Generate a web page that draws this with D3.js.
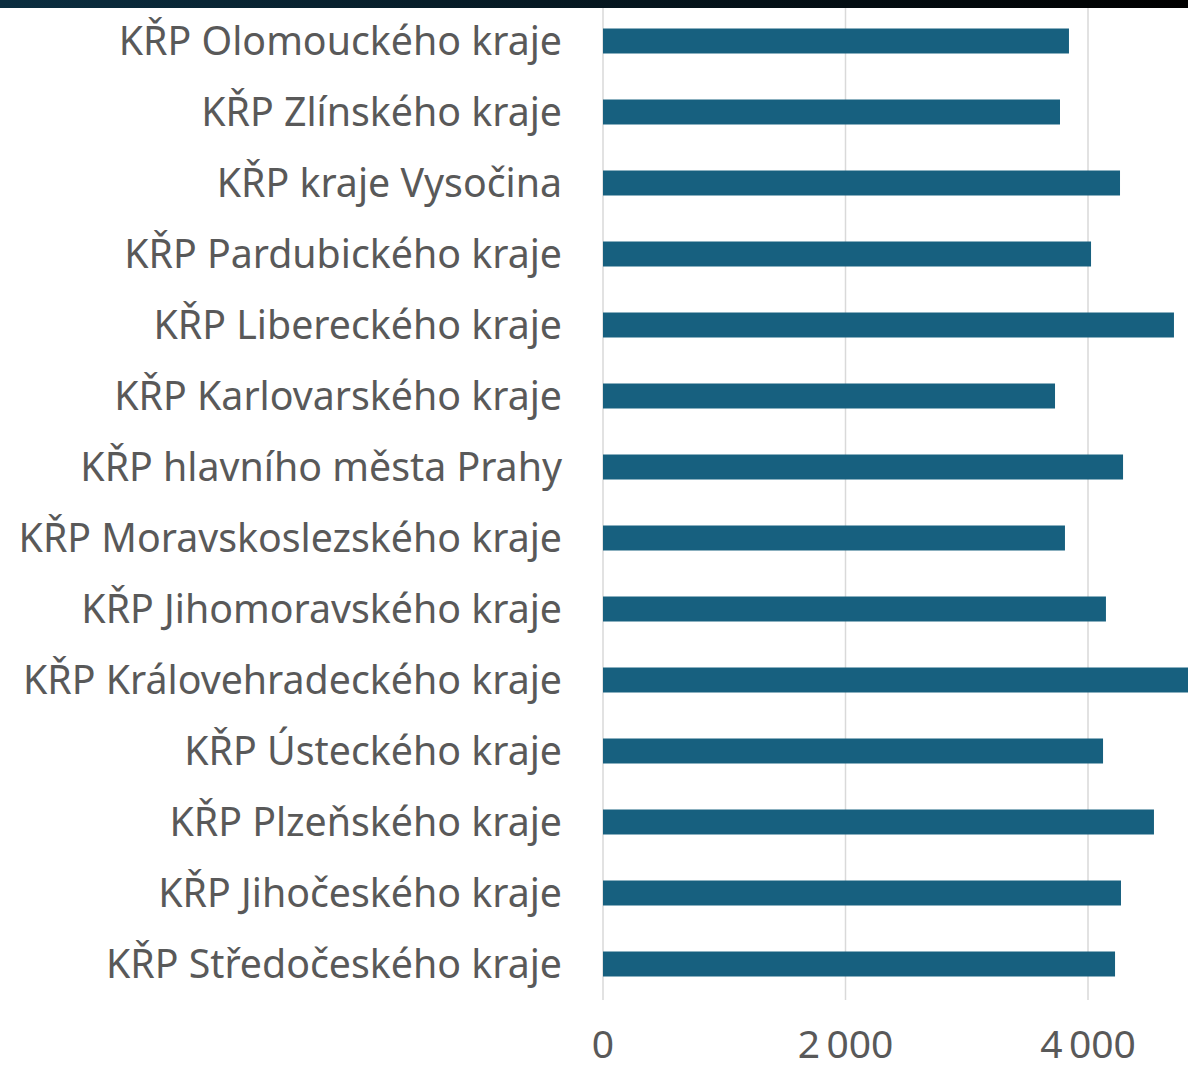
<!DOCTYPE html>
<html>
<head>
<meta charset="utf-8">
<script src="https://cdn.jsdelivr.net/npm/d3@7"></script>
<style>
html,body{margin:0;padding:0;background:#fff;}
svg{display:block;}
</style>
</head>
<body>
<svg id="chart" width="1188" height="1069"></svg>
<script>
const categories = [
  "KŘP Olomouckého kraje",
  "KŘP Zlínského kraje",
  "KŘP kraje Vysočina",
  "KŘP Pardubického kraje",
  "KŘP Libereckého kraje",
  "KŘP Karlovarského kraje",
  "KŘP hlavního města Prahy",
  "KŘP Moravskoslezského kraje",
  "KŘP Jihomoravského kraje",
  "KŘP Královehradeckého kraje",
  "KŘP Ústeckého kraje",
  "KŘP Plzeňského kraje",
  "KŘP Jihočeského kraje",
  "KŘP Středočeského kraje"
];
const values = [3843, 3769, 4264, 4025, 4709, 3728, 4289, 3810, 4148, 4900, 4124, 4544, 4272, 4223];
const tickValues = [0, 2000, 4000];
const tickLabels = ["0", "2\u2009000", "4\u2009000"];

const svg = d3.select("#chart");
const defs = svg.append("defs");
const grad = defs.append("linearGradient").attr("id","topband").attr("x1","0").attr("x2","1").attr("y1","0").attr("y2","0");
grad.append("stop").attr("offset","0%").attr("stop-color","#0b2e40");
grad.append("stop").attr("offset","100%").attr("stop-color","#000000");
svg.append("rect").attr("x",0).attr("y",0).attr("width",1188).attr("height",8).attr("fill","url(#topband)");

const x = d3.scaleLinear().domain([0, 4000]).range([603, 1088]);
const y = d3.scaleBand().domain(categories).range([5.5, 999.5]).paddingInner(0.648).paddingOuter(0.324);

// gridlines
svg.append("g").selectAll("line").data(tickValues).join("line")
  .attr("x1", d => x(d)).attr("x2", d => x(d))
  .attr("y1", 8).attr("y2", 1000)
  .attr("stroke", "#d9d9d9").attr("stroke-width", 1.5);

// bars
svg.append("g").selectAll("rect").data(categories).join("rect")
  .attr("x", x(0))
  .attr("y", d => y(d))
  .attr("width", (d,i) => x(values[i]) - x(0))
  .attr("height", y.bandwidth())
  .attr("fill", "#17607f");

// category labels
svg.append("g").selectAll("text").data(categories).join("text")
  .attr("x", 562)
  .attr("y", d => y(d) + y.bandwidth()/2)
  .attr("dy", "0.35em")
  .attr("text-anchor", "end")
  .attr("font-family", "Noto Sans, sans-serif")
  .attr("font-size", 39.3)
  .attr("fill", "#595959")
  .text(d => d);

// tick labels
svg.append("g").selectAll("text").data(tickValues).join("text")
  .attr("x", d => x(d))
  .attr("y", 1058)
  .attr("text-anchor", "middle")
  .attr("font-family", "Noto Sans, sans-serif")
  .attr("font-size", 39)
  .attr("fill", "#595959")
  .text((d,i) => tickLabels[i]);
</script>
</body>
</html>
